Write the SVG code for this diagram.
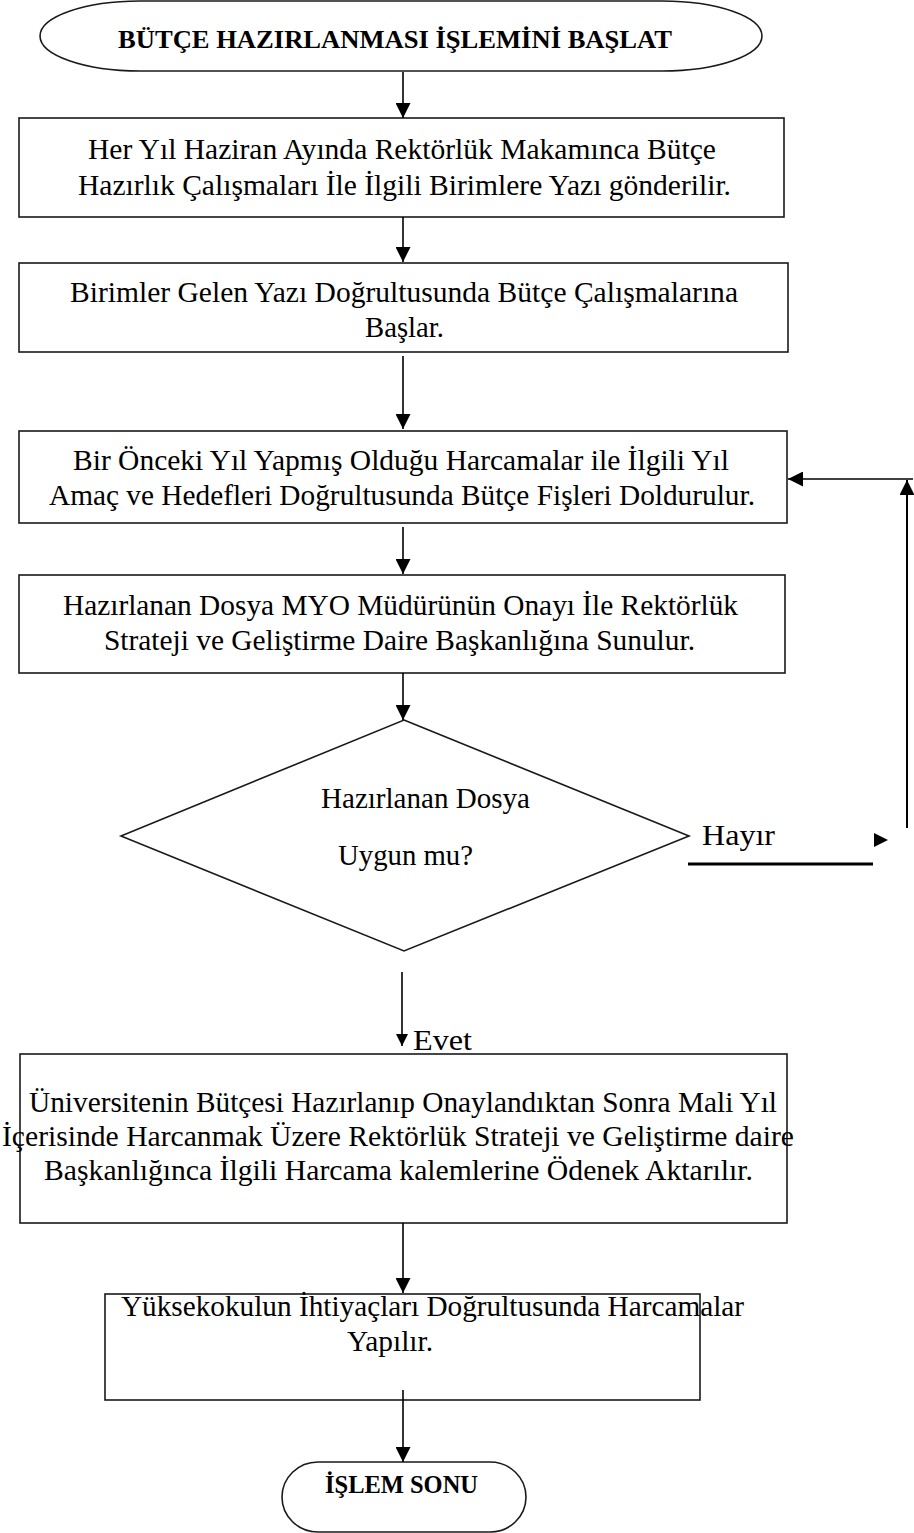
<svg xmlns="http://www.w3.org/2000/svg" width="914" height="1533" viewBox="0 0 914 1533">
<style>
.shape{fill:#fff;stroke:#1a1a1a;stroke-width:1.6}
.t{font-family:"Liberation Serif","Times New Roman",serif;font-size:29px;fill:#000}
.b{font-family:"Liberation Serif","Times New Roman",serif;font-size:26px;font-weight:bold;fill:#000}
.c{fill:none;stroke:#000;stroke-width:1.6}
.thick{stroke-width:3}
.mid{stroke-width:2}
</style>
<defs>
<marker id="ah" viewBox="0 0 15 15" refX="15" refY="7.5" markerWidth="15" markerHeight="15" markerUnits="userSpaceOnUse" orient="auto">
<path d="M0,0 L15,7.5 L0,15 Z" fill="#000"/>
</marker>
<marker id="ahs" viewBox="0 0 12 12" refX="12" refY="6" markerWidth="12" markerHeight="12" markerUnits="userSpaceOnUse" orient="auto">
<path d="M0,0 L12,6 L0,12 Z" fill="#000"/>
</marker>
</defs>
<rect width="914" height="1533" fill="#fff"/>

<g id="start">
<path class="shape" d="M140,1 L662,1 A100,35 0 0 1 662,71 L140,71 A100,35 0 0 1 140,1 Z"/>
<text class="b" x="118" y="48" textLength="554" lengthAdjust="spacingAndGlyphs">BÜTÇE HAZIRLANMASI İŞLEMİNİ BAŞLAT</text>
</g>

<g id="step1">
<rect class="shape" x="19" y="118" width="765" height="99"/>
<text class="t" x="88" y="159" textLength="628" lengthAdjust="spacingAndGlyphs">Her Yıl Haziran Ayında Rektörlük Makamınca Bütçe</text>
<text class="t" x="78" y="195" textLength="653" lengthAdjust="spacingAndGlyphs">Hazırlık Çalışmaları İle İlgili Birimlere Yazı gönderilir.</text>
</g>

<g id="step2">
<rect class="shape" x="19" y="263" width="769" height="89"/>
<text class="t" x="70" y="302" textLength="668" lengthAdjust="spacingAndGlyphs">Birimler Gelen Yazı Doğrultusunda Bütçe Çalışmalarına</text>
<text class="t" x="365" y="337" textLength="79" lengthAdjust="spacingAndGlyphs">Başlar.</text>
</g>

<g id="step3">
<rect class="shape" x="19" y="431" width="768" height="92"/>
<text class="t" x="73" y="470" textLength="656" lengthAdjust="spacingAndGlyphs">Bir Önceki Yıl Yapmış Olduğu Harcamalar ile İlgili Yıl</text>
<text class="t" x="49" y="505" textLength="706" lengthAdjust="spacingAndGlyphs">Amaç ve Hedefleri Doğrultusunda Bütçe Fişleri Doldurulur.</text>
</g>

<g id="step4">
<rect class="shape" x="19" y="575" width="766" height="98"/>
<text class="t" x="63" y="615" textLength="675" lengthAdjust="spacingAndGlyphs">Hazırlanan Dosya MYO Müdürünün Onayı İle Rektörlük</text>
<text class="t" x="104" y="650" textLength="591" lengthAdjust="spacingAndGlyphs">Strateji ve Geliştirme Daire Başkanlığına Sunulur.</text>
</g>

<g id="decision">
<polygon class="shape" points="404,720 689,836 404,951 121,836"/>
<text class="t" x="321" y="808" textLength="209" lengthAdjust="spacingAndGlyphs">Hazırlanan Dosya</text>
<text class="t" x="338" y="865" textLength="135" lengthAdjust="spacingAndGlyphs">Uygun mu?</text>
</g>

<g id="step5">
<rect class="shape" x="20" y="1054" width="767" height="169"/>
<text class="t" x="29" y="1112" textLength="748" lengthAdjust="spacingAndGlyphs">Üniversitenin Bütçesi Hazırlanıp Onaylandıktan Sonra Mali Yıl</text>
<text class="t" x="2" y="1146" textLength="792" lengthAdjust="spacingAndGlyphs">İçerisinde Harcanmak Üzere Rektörlük Strateji ve Geliştirme daire</text>
<text class="t" x="44" y="1180" textLength="709" lengthAdjust="spacingAndGlyphs">Başkanlığınca İlgili Harcama kalemlerine Ödenek Aktarılır.</text>
</g>

<g id="step6">
<rect class="shape" x="105" y="1294" width="595" height="106"/>
<text class="t" x="121" y="1316" textLength="623" lengthAdjust="spacingAndGlyphs">Yüksekokulun İhtiyaçları Doğrultusunda Harcamalar</text>
<text class="t" x="347" y="1351" textLength="86" lengthAdjust="spacingAndGlyphs">Yapılır.</text>
</g>

<g id="end">
<path class="shape" d="M318,1462 L490,1462 A36,35 0 0 1 490,1532 L318,1532 A36,35 0 0 1 318,1462 Z"/>
<text class="b" x="325" y="1493" textLength="153" lengthAdjust="spacingAndGlyphs">İŞLEM SONU</text>
</g>

<g id="connectors">
<line class="c" x1="403" y1="72" x2="403" y2="118" marker-end="url(#ah)"/>
<line class="c" x1="403" y1="217" x2="403" y2="262" marker-end="url(#ah)"/>
<line class="c" x1="403" y1="356" x2="403" y2="429" marker-end="url(#ah)"/>
<line class="c" x1="403" y1="527" x2="403" y2="574" marker-end="url(#ah)"/>
<line class="c" x1="403" y1="673" x2="403" y2="720" marker-end="url(#ah)"/>
<line class="c" x1="402" y1="972" x2="402" y2="1046" marker-end="url(#ahs)"/>
<line class="c" x1="403" y1="1223" x2="403" y2="1293" marker-end="url(#ah)"/>
<line class="c" x1="403" y1="1390" x2="403" y2="1462" marker-end="url(#ah)"/>
<line class="c mid" x1="907" y1="828" x2="907" y2="480" marker-end="url(#ah)"/>
<line class="c" x1="913" y1="479" x2="788" y2="479" marker-end="url(#ah)"/>
<line class="c thick" x1="688" y1="864" x2="873" y2="864"/>
<path d="M874,833 L888,840 L874,847 Z" fill="#000"/>
<text class="t" x="702" y="845" font-size="32" textLength="73" lengthAdjust="spacingAndGlyphs">Hayır</text>
<text class="t" x="413" y="1050" font-size="31" textLength="59" lengthAdjust="spacingAndGlyphs">Evet</text>
</g>
</svg>
